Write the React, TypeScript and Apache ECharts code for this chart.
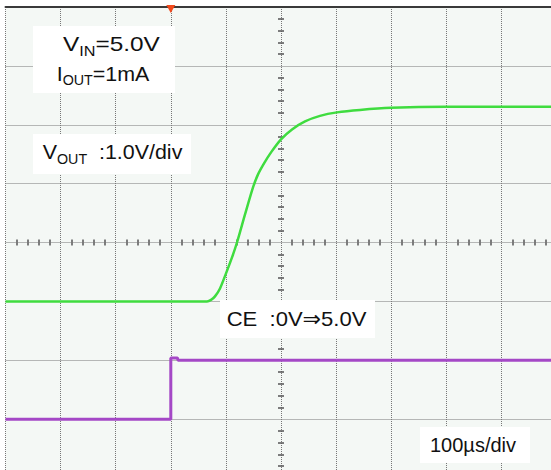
import React, { useEffect, useRef } from "react";
import * as echarts from "echarts";

// Vout trace (time in µs, volts) — 1.0V/div, 100µs/div
const voutTime = [0, 365.7, 373, 380.2, 389.3, 400.2, 411.1, 420.1, 434.7, 449.2, 458.3, 469.2, 481.9, 500, 520, 543.6, 570.8, 601.6, 643.4, 699.7, 799.5, 900, 1000];
const voutValue = [0, 0, 0.025, 0.085, 0.22, 0.476, 0.747, 1.0, 1.478, 1.936, 2.157, 2.344, 2.531, 2.752, 2.921, 3.057, 3.151, 3.21, 3.252, 3.287, 3.304, 3.304, 3.304];

// CE trace (time in µs, volts) — 5V/div
const ceTime = [0, 300, 300, 312, 313, 1000];
const ceValue = [0, 0, 5.2, 5.2, 5, 5];

// Trigger position (µs)
const triggerTime = 300;

// Axis ranges
const timeMin = 0;
const timeMax = 1000;
const timeStep = 100;
const voutMin = -3;
const voutMax = 5;
const voutStep = 1;
const ceMin = -5;
const ceMax = 35;

const FONT = "'Liberation Sans', Arial, 'DejaVu Sans', sans-serif";

export default function App() {
  const ref = useRef<HTMLDivElement>(null);

  useEffect(() => {
    if (!ref.current) return;
    const chart = echarts.init(ref.current, undefined, { renderer: "svg" });

    const voutData = voutTime.map((t, i) => [t, voutValue[i]]);
    const ceData = ceTime.map((t, i) => [t, ceValue[i]]);

    const gridLine = { type: "dotted", color: "#777777", width: 1 };
    const tickStyle = { color: "#555", width: 1.5 };

    const mkRich = (size: number, sub: number) => ({
      a: { fontSize: size, fontFamily: FONT, color: "#111", lineHeight: 28, verticalAlign: "middle" },
      s: { fontSize: sub, fontFamily: FONT, color: "#111", lineHeight: 15, verticalAlign: "bottom" },
    });

    const textEl = (x: number, y: number, text: string, size = 21, sub = 14, scaleX = 1) => ({
      type: "text",
      x,
      y,
      scaleX,
      z: 101,
      style: { text, rich: mkRich(size, sub), verticalAlign: "middle", align: "left", font: `${size}px ${FONT}`, fill: "#111" },
    });
    const boxEl = (x: number, y: number, w: number, h: number) => ({
      type: "rect",
      z: 100,
      shape: { x, y, width: w, height: h },
      style: { fill: "#ffffff" },
    });

    const option: any = {
      animation: false,
      backgroundColor: "#ffffff",
      grid: {
        left: 5.5,
        top: 7,
        width: 551,
        height: 471,
        show: true,
        backgroundColor: "#f4f8f5",
        borderWidth: 0,
        outerBoundsMode: "none",
      },
      xAxis: [
        {
          type: "value", min: timeMin, max: timeMax, interval: timeStep, position: "bottom",
          axisLine: { show: false, onZero: false }, axisTick: { show: false }, axisLabel: { show: false },
          splitLine: { show: true, lineStyle: gridLine },
        },
        {
          type: "value", min: timeMin, max: timeMax, interval: timeStep, position: "top",
          axisLine: { show: true, onZero: false, lineStyle: { color: "#3a3a3a", width: 2 } },
          axisTick: { show: false }, axisLabel: { show: false }, splitLine: { show: false },
        },
        {
          type: "value", min: timeMin, max: timeMax, interval: timeStep, position: "bottom", offset: -235.5,
          axisLine: { show: false, onZero: false }, axisTick: { show: false, inside: true },
          minorTick: { show: true, splitNumber: 5, length: 3, lineStyle: tickStyle },
          axisLabel: { show: false }, splitLine: { show: false },
        },
        {
          type: "value", min: timeMin, max: timeMax, interval: timeStep, position: "bottom", offset: -235.5,
          axisLine: { show: false, onZero: false }, axisTick: { show: false, inside: false },
          minorTick: { show: true, splitNumber: 5, length: 3, lineStyle: tickStyle },
          axisLabel: { show: false }, splitLine: { show: false },
        },
      ],
      yAxis: [
        {
          type: "value", min: voutMin, max: voutMax, interval: voutStep, position: "left",
          axisLine: { show: false, onZero: false }, axisTick: { show: false }, axisLabel: { show: false },
          splitLine: { show: true, lineStyle: gridLine },
        },
        {
          type: "value", min: ceMin, max: ceMax, interval: 5, position: "right", show: false,
        },
        {
          type: "value", min: voutMin, max: voutMax, interval: voutStep, position: "left", offset: -275.5,
          axisLine: { show: false, onZero: false }, axisTick: { show: false, inside: true },
          minorTick: { show: true, splitNumber: 5, length: 3, lineStyle: tickStyle },
          axisLabel: { show: false }, splitLine: { show: false },
        },
        {
          type: "value", min: voutMin, max: voutMax, interval: voutStep, position: "left", offset: -275.5,
          axisLine: { show: false, onZero: false }, axisTick: { show: false, inside: false },
          minorTick: { show: true, splitNumber: 5, length: 3, lineStyle: tickStyle },
          axisLabel: { show: false }, splitLine: { show: false },
        },
      ],
      series: [
        {
          name: "VOUT",
          type: "line",
          xAxisIndex: 0,
          yAxisIndex: 0,
          data: voutData,
          smooth: 0.25,
          symbol: "none",
          lineStyle: { color: "#3fdc3f", width: 2.5 },
          z: 5,
        },
        {
          name: "CE",
          type: "line",
          xAxisIndex: 0,
          yAxisIndex: 1,
          data: ceData,
          symbol: "none",
          lineStyle: { color: "#a448c6", width: 3 },
          z: 4,
          markPoint: {
            silent: true,
            symbol: "triangle",
            symbolSize: [9, 8],
            symbolRotate: 180,
            symbolOffset: [0, 2],
            label: { show: false },
            itemStyle: { color: "#f24a1c" },
            data: [{ coord: [triggerTime, ceMax] }],
          },
        },
      ],
      graphic: [
        boxEl(33, 26, 142, 67),
        textEl(63, 43.7, "{a|V}{s|IN}{a|=5.0V}", 21, 14, 1.16),
        textEl(56.7, 73.3, "{a|I}{s|OUT}{a|=1mA}", 21, 14, 1.02),
        boxEl(33, 134, 158, 40),
        textEl(42.7, 151.7, "{a|V}{s|OUT}{a|  :1.0V/div}", 21, 14, 1.02),
        boxEl(220, 300, 155, 38),
        textEl(226.7, 319, "{a|CE  :0V⇒5.0V}", 21, 14, 1.05),
        boxEl(420, 427, 110, 36),
        textEl(430, 444.5, "{a|100µs/div}", 20, 14, 1.0),
      ],
    };

    chart.setOption(option);
    return () => chart.dispose();
  }, []);

  return (
    <div
      ref={ref}
      style={{ position: "fixed", left: 0, top: 0, width: 551, height: 470, overflow: "hidden", background: "#fff" }}
    />
  );
}
